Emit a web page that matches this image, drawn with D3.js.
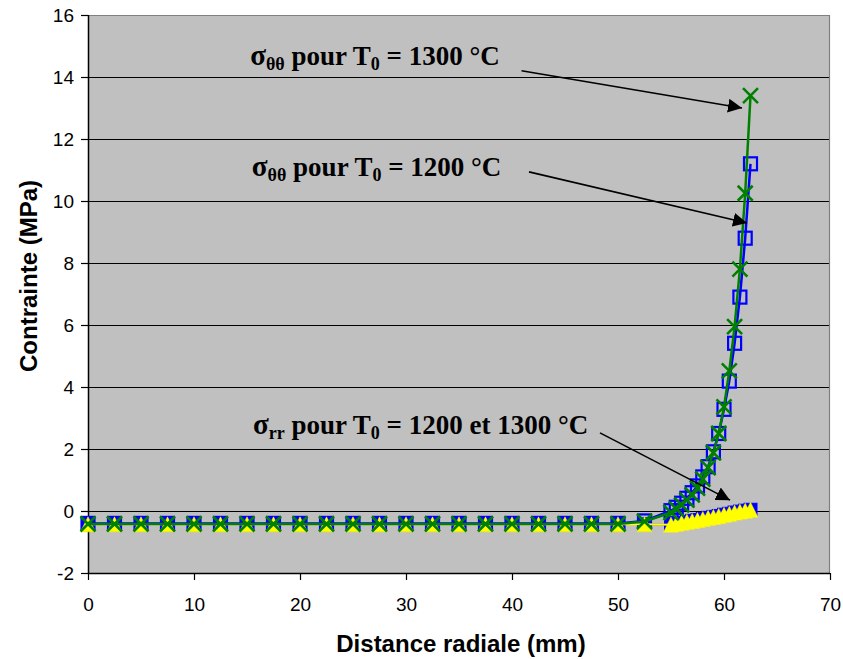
<!DOCTYPE html>
<html>
<head>
<meta charset="utf-8">
<script src="https://cdn.jsdelivr.net/npm/d3@7"></script>
<style>
  html, body { margin: 0; padding: 0; background: #ffffff; }
  svg { display: block; }
</style>
</head>
<body>
<svg id="chart" width="843" height="659"></svg>
<script>
// ---------------- DATA ----------------
const distance = [0, 2.5, 5, 7.5, 10, 12.5, 15, 17.5, 20, 22.5, 25, 27.5, 30, 32.5, 35, 37.5, 40, 42.5, 45, 47.5, 50, 52.5,
                  55, 55.5, 56, 56.5, 57, 57.5, 58, 58.5, 59, 59.5, 60, 60.5, 61, 61.5, 62, 62.5];

const sigmaTT1200 = [-0.40, -0.40, -0.40, -0.40, -0.40, -0.40, -0.40, -0.40, -0.40, -0.40, -0.40, -0.40, -0.40, -0.40, -0.40, -0.40, -0.40, -0.40, -0.40, -0.40, -0.40, -0.32,
                     0.01, 0.12, 0.25, 0.41, 0.59, 0.81, 1.10, 1.43, 1.91, 2.50, 3.28, 4.19, 5.41, 6.90, 8.80, 11.20];

const sigmaTT1300 = [-0.42, -0.42, -0.42, -0.42, -0.42, -0.42, -0.42, -0.42, -0.42, -0.42, -0.42, -0.42, -0.42, -0.42, -0.42, -0.42, -0.42, -0.42, -0.42, -0.42, -0.42, -0.34,
                     -0.05, 0.07, 0.20, 0.35, 0.52, 0.74, 1.03, 1.40, 1.88, 2.50, 3.36, 4.52, 5.95, 7.80, 10.25, 13.40];

const sigmaRR1200 = [-0.43, -0.43, -0.43, -0.43, -0.43, -0.43, -0.43, -0.43, -0.43, -0.43, -0.43, -0.43, -0.43, -0.43, -0.43, -0.43, -0.43, -0.43, -0.43, -0.43, -0.43, -0.43,
                     -0.44, -0.41, -0.38, -0.35, -0.32, -0.29, -0.26, -0.22, -0.19, -0.16, -0.12, -0.09, -0.05, -0.02, 0.01, 0.04];

const sigmaRR1300 = [-0.43, -0.43, -0.43, -0.43, -0.43, -0.43, -0.43, -0.43, -0.43, -0.43, -0.43, -0.43, -0.43, -0.43, -0.43, -0.43, -0.43, -0.43, -0.43, -0.43, -0.43, -0.43,
                     -0.44, -0.41, -0.38, -0.35, -0.32, -0.29, -0.26, -0.22, -0.19, -0.16, -0.12, -0.09, -0.05, -0.02, 0.01, 0.04];

const xTicks = [0, 10, 20, 30, 40, 50, 60, 70];
const yTicks = [-2, 0, 2, 4, 6, 8, 10, 12, 14, 16];

const xTitle = "Distance radiale (mm)";
const yTitle = "Contrainte (MPa)";

// annotations: label anchor and arrow (data coordinates)
const annotations = [
  { main: "σ", sub: "θθ", rest1: " pour T", sub2: "0", rest2: " = 1300 °C", lx: 15.3, ly: 14.39, ax1: 40.9, ay1: 14.2, ax2: 61.7, ay2: 13.0 },
  { main: "σ", sub: "θθ", rest1: " pour T", sub2: "0", rest2: " = 1200 °C", lx: 15.45, ly: 10.81, ax1: 41.6, ay1: 10.94, ax2: 62.17, ay2: 9.29 },
  { main: "σ", sub: "rr", rest1: " pour T", sub2: "0", rest2: " = 1200 et 1300 °C", lx: 15.57, ly: 2.48, ax1: 48.3, ay1: 2.52, ax2: 60.57, ay2: 0.35 }
];

// ---------------- CHART ----------------
const svg = d3.select("#chart");
const plot = { left: 88, top: 15, right: 830, bottom: 573 };

const x = d3.scaleLinear().domain([0, 70]).range([plot.left, plot.right]);
const y = d3.scaleLinear().domain([-2, 16]).range([plot.bottom, plot.top]);

// plot background
svg.append("rect")
  .attr("x", plot.left).attr("y", plot.top)
  .attr("width", plot.right - plot.left).attr("height", plot.bottom - plot.top)
  .attr("fill", "#c0c0c0");

// gridlines
svg.append("g").selectAll("line")
  .data(yTicks.filter(d => d > -2 && d < 16))
  .join("line")
  .attr("x1", plot.left).attr("x2", plot.right)
  .attr("y1", d => Math.round(y(d)) + 0.5).attr("y2", d => Math.round(y(d)) + 0.5)
  .attr("stroke", "#000").attr("stroke-width", 1);

// top & right border (gray)
svg.append("path")
  .attr("d", `M${plot.left},${plot.top + 0.5}H${plot.right - 0.5}V${plot.bottom}`)
  .attr("fill", "none").attr("stroke", "#808080").attr("stroke-width", 1.2);

// axes
const axisFont = "'Liberation Sans', Arial, sans-serif";
const yAxis = svg.append("g")
  .attr("transform", `translate(${plot.left},0)`)
  .call(d3.axisLeft(y).tickValues(yTicks).tickSize(7).tickPadding(7).tickFormat(d => String(d)));
const xAxis = svg.append("g")
  .attr("transform", `translate(0,${plot.bottom})`)
  .call(d3.axisBottom(x).tickValues(xTicks).tickSize(7).tickPadding(18).tickFormat(d => String(d)));

[yAxis, xAxis].forEach(g => {
  g.select(".domain").attr("stroke", "#000").attr("stroke-width", 1.5);
  g.selectAll(".tick line").attr("stroke", "#000").attr("stroke-width", 1.2);
  g.selectAll(".tick text")
    .attr("font-family", axisFont).attr("font-size", 19).attr("fill", "#000");
});
xAxis.select(".domain").attr("d", `M${plot.left},0.5H${plot.right}`);
yAxis.select(".domain").attr("d", `M0.5,${plot.top}V${plot.bottom}`);

// axis titles
svg.append("text")
  .attr("x", 461).attr("y", 652)
  .attr("text-anchor", "middle")
  .attr("font-family", axisFont).attr("font-weight", "bold").attr("font-size", 24)
  .text(xTitle);

svg.append("text")
  .attr("transform", `translate(37,${(plot.top + plot.bottom) / 2 - 18}) rotate(-90)`)
  .attr("text-anchor", "middle")
  .attr("font-family", axisFont).attr("font-weight", "bold").attr("font-size", 24)
  .text(yTitle);

// series
function pts(vals) { return distance.map((d, i) => [d, vals[i]]); }
const line = d3.line().x(d => x(d[0])).y(d => y(d[1]));

const gSeries = svg.append("g");

// sigma theta theta 1200 : blue line, hollow squares
gSeries.append("path").datum(pts(sigmaTT1200))
  .attr("d", line).attr("fill", "none").attr("stroke", "#0000ff").attr("stroke-width", 2.5);
gSeries.append("g").selectAll("rect").data(pts(sigmaTT1200)).join("rect")
  .attr("x", d => x(d[0]) - 6.5).attr("y", d => y(d[1]) - 6.5)
  .attr("width", 13).attr("height", 13)
  .attr("fill", "none").attr("stroke", "#0000ff").attr("stroke-width", 2.2);

// sigma rr 1200 : navy line, filled blue squares
gSeries.append("path").datum(pts(sigmaRR1200))
  .attr("d", line).attr("fill", "none").attr("stroke", "#000080").attr("stroke-width", 1.5);
gSeries.append("g").selectAll("rect").data(pts(sigmaRR1200)).join("rect")
  .attr("x", d => x(d[0]) - 6.5).attr("y", d => y(d[1]) - 6.5)
  .attr("width", 13).attr("height", 13)
  .attr("fill", "#0000ff").attr("stroke", "#0000ff").attr("stroke-width", 1);

// sigma rr 1300 : yellow line, yellow triangles
gSeries.append("path").datum(pts(sigmaRR1300))
  .attr("d", line).attr("fill", "none").attr("stroke", "#ffff00").attr("stroke-width", 2);
gSeries.append("g").selectAll("path").data(pts(sigmaRR1300)).join("path")
  .attr("d", d => {
    const cx = x(d[0]), cy = y(d[1]);
    return `M${cx},${cy - 7.5}L${cx + 7.5},${cy + 7.5}L${cx - 7.5},${cy + 7.5}Z`;
  })
  .attr("fill", "#ffff00").attr("stroke", "#ffff00").attr("stroke-width", 0.5);

// sigma theta theta 1300 : green line, x markers
gSeries.append("path").datum(pts(sigmaTT1300))
  .attr("d", line).attr("fill", "none").attr("stroke", "#008000").attr("stroke-width", 2.5);
gSeries.append("g").selectAll("path").data(pts(sigmaTT1300)).join("path")
  .attr("d", d => {
    const cx = x(d[0]), cy = y(d[1]), s = 7.5;
    return `M${cx - s},${cy - s}L${cx + s},${cy + s}M${cx + s},${cy - s}L${cx - s},${cy + s}`;
  })
  .attr("fill", "none").attr("stroke", "#008000").attr("stroke-width", 2.6);

// annotations
svg.append("defs").append("marker")
  .attr("id", "arrowhead")
  .attr("viewBox", "0 0 14 14").attr("refX", 14).attr("refY", 7)
  .attr("markerWidth", 14).attr("markerHeight", 14)
  .attr("markerUnits", "userSpaceOnUse")
  .attr("orient", "auto")
  .append("path").attr("d", "M0,0L14,7L0,14Z").attr("fill", "#000");

const serif = "'Liberation Serif', 'Times New Roman', serif";
const gAnn = svg.append("g");
annotations.forEach(a => {
  const t = gAnn.append("text")
    .attr("x", x(a.lx)).attr("y", y(a.ly))
    .attr("font-family", serif).attr("font-weight", "bold").attr("font-size", 27).attr("fill", "#000");
  t.append("tspan").attr("font-size", 29).text(a.main);
  t.append("tspan").attr("font-size", 18).attr("dy", 5).text(a.sub);
  t.append("tspan").attr("dy", -5).text(a.rest1);
  t.append("tspan").attr("font-size", 18).attr("dy", 5).text(a.sub2);
  t.append("tspan").attr("dy", -5).text(a.rest2);

  gAnn.append("line")
    .attr("x1", x(a.ax1)).attr("y1", y(a.ay1))
    .attr("x2", x(a.ax2)).attr("y2", y(a.ay2))
    .attr("stroke", "#000").attr("stroke-width", 1.6)
    .attr("marker-end", "url(#arrowhead)");
});
</script>
</body>
</html>
